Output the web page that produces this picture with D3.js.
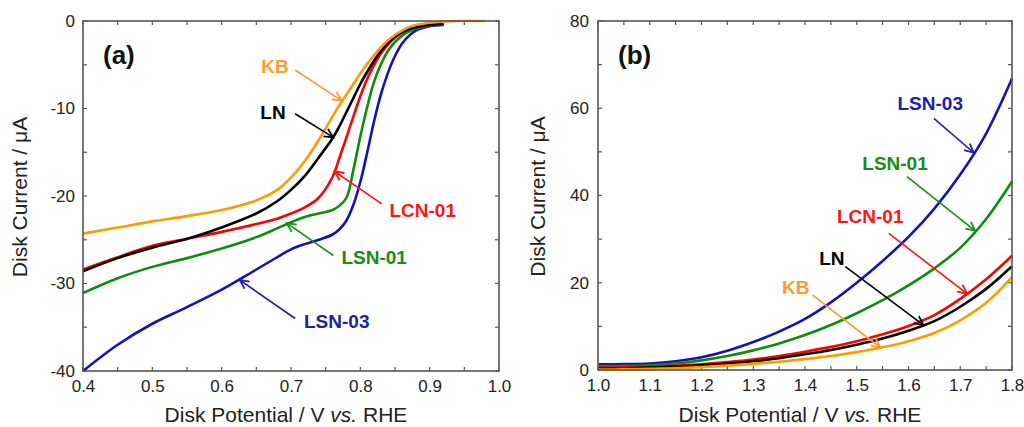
<!DOCTYPE html>
<html>
<head>
<meta charset="utf-8">
<script src="https://cdn.jsdelivr.net/npm/d3@7"></script>
<style>
  html, body { margin: 0; padding: 0; background: #fff; }
  svg { display: block; font-family: "Liberation Sans", Arial, sans-serif; }
</style>
</head>
<body>
<svg id="chart" width="1024" height="427"></svg>
<script>
// ---------- Panel (a): ORR polarisation, disk current vs potential ----------
const potentialA = [0.40, 0.45, 0.50, 0.55, 0.60, 0.65, 0.68, 0.70, 0.72, 0.74, 0.76, 0.77, 0.78, 0.79,
                    0.80, 0.81, 0.82, 0.83, 0.84, 0.85, 0.86, 0.87, 0.88, 0.90, 0.92, 0.95, 0.98];
const kbA    = [-24.3, -23.6, -22.9, -22.3, -21.6, -20.5, -19.3, -17.9, -16.0, -13.6, -10.9, -9.6, -8.4, -7.2,
                -6.0, -4.9, -3.9, -3.0, -2.2, -1.6, -1.1, -0.7, -0.45, -0.2, -0.05, 0, 0];
const lnA    = [-28.6, -27.1, -25.9, -24.9, -23.6, -22.0, -20.6, -19.3, -17.7, -15.6, -13.4, -12.0, -10.4, -8.8,
                -7.2, -5.8, -4.5, -3.4, -2.5, -1.8, -1.3, -0.95, -0.7, -0.45, -0.35, null, null];
const lcn01A = [-28.4, -27.0, -25.7, -24.9, -24.1, -23.2, -22.6, -22.0, -21.3, -20.2, -17.8, -15.6, -13.3, -10.9,
                -8.6, -6.6, -5.0, -3.7, -2.7, -1.9, -1.3, -0.9, -0.7, -0.45, -0.35, null, null];
const lsn01A = [-31.1, -29.4, -28.1, -27.1, -26.0, -24.7, -23.7, -23.0, -22.4, -22.0, -21.6, -21.1, -20.2, -17.0,
                -13.2, -9.8, -6.9, -4.9, -3.4, -2.4, -1.7, -1.2, -0.9, -0.55, -0.4, null, null];
const lsn03A = [-40.0, -37.0, -34.6, -32.7, -30.7, -28.4, -27.0, -26.1, -25.5, -25.0, -24.4, -23.8, -22.8, -21.0,
                -18.4, -15.0, -11.4, -8.3, -5.9, -4.0, -2.6, -1.7, -1.1, -0.6, -0.45, null, null];

// ---------- Panel (b): OER polarisation ----------
const potentialB = [1.00, 1.05, 1.10, 1.15, 1.20, 1.25, 1.30, 1.35, 1.40, 1.45, 1.50, 1.55, 1.60, 1.65, 1.70, 1.75, 1.80];
const lsn03B = [1.3, 1.35, 1.5, 2.0, 2.9, 4.4, 6.4, 8.8, 11.7, 15.5, 20.0, 25.0, 30.5, 37.0, 44.8, 54.2, 66.8];
const lsn01B = [0.9, 0.95, 1.1, 1.5, 2.2, 3.2, 4.5, 6.1, 8.0, 10.3, 13.0, 16.0, 19.4, 23.3, 28.0, 34.6, 43.2];
const lcn01B = [0.5, 0.6, 0.75, 1.0, 1.3, 1.8, 2.4, 3.2, 4.2, 5.3, 6.6, 8.2, 10.1, 12.6, 16.3, 20.8, 26.2];
const lnB    = [0.3, 0.4, 0.55, 0.8, 1.1, 1.5, 2.0, 2.7, 3.6, 4.6, 5.8, 7.2, 9.0, 11.2, 14.5, 18.6, 23.8];
const kbB    = [0.1, 0.15, 0.25, 0.4, 0.65, 1.0, 1.4, 1.9, 2.5, 3.2, 4.1, 5.2, 6.6, 8.5, 11.4, 15.4, 21.3];

// ---------- Axis ticks ----------
const xTicksA = [0.4, 0.5, 0.6, 0.7, 0.8, 0.9, 1.0];
const xMinorA = d3.range(0.4, 1.0001, 0.05);
const yTicksA = [0, -10, -20, -30, -40];
const yMinorA = d3.range(0, -40.001, -5);
const xTicksB = [1.0, 1.1, 1.2, 1.3, 1.4, 1.5, 1.6, 1.7, 1.8];
const xMinorB = d3.range(1.0, 1.8001, 0.05);
const yTicksB = [0, 20, 40, 60, 80];
const yMinorB = d3.range(0, 80.001, 10);

// ---------- Series names and colours ----------
const seriesNames  = ["KB", "LN", "LCN-01", "LSN-01", "LSN-03"];
const lineColors   = ["#ff9a00", "#000000", "#ff0000", "#0d8c0d", "#1212b8"];
const labelColors  = ["#ff9a33", "#000000", "#ff1414", "#1a8a1a", "#2020a8"];

// Label anchor and arrow (tail -> head) in data units
const notesA = [
  { name: "KB",     at: [0.677, -5.2],  tail: [0.706, -5.6],  head: [0.773, -9.1] },
  { name: "LN",     at: [0.674, -10.4], tail: [0.706, -10.6], head: [0.761, -13.3] },
  { name: "LCN-01", at: [0.890, -21.6], tail: [0.831, -20.9], head: [0.763, -17.2] },
  { name: "LSN-01", at: [0.820, -27.0], tail: [0.761, -26.8], head: [0.694, -23.1] },
  { name: "LSN-03", at: [0.766, -34.3], tail: [0.706, -34.0], head: [0.626, -29.6] }
];
const notesB = [
  { name: "LSN-03", at: [1.642, 61.2], tail: [1.649, 57.7], head: [1.726, 49.8] },
  { name: "LSN-01", at: [1.574, 47.4], tail: [1.597, 44.3], head: [1.729, 31.9] },
  { name: "LCN-01", at: [1.526, 35.3], tail: [1.562, 31.3], head: [1.713, 17.5] },
  { name: "LN",     at: [1.452, 25.7], tail: [1.478, 23.7], head: [1.629, 10.3] },
  { name: "KB",     at: [1.382, 19.0], tail: [1.414, 17.2], head: [1.546, 5.1] }
];

const svg = d3.select("#chart");
svg.append("rect").attr("width", 1024).attr("height", 427).attr("fill", "#fff");

function drawPanel(cfg) {
  const x = d3.scaleLinear().domain(cfg.xDomain).range([cfg.left, cfg.right]);
  const y = d3.scaleLinear().domain(cfg.yDomain).range([cfg.bottom, cfg.top]);
  const g = svg.append("g");
  const frameColor = "#555";

  // inward ticks on all four sides
  const tickLen = 4;
  const tickG = g.append("g").attr("stroke", frameColor).attr("stroke-width", 1.2);
  cfg.xMinor.forEach(v => {
    tickG.append("line").attr("x1", x(v)).attr("x2", x(v)).attr("y1", cfg.bottom).attr("y2", cfg.bottom - tickLen);
    tickG.append("line").attr("x1", x(v)).attr("x2", x(v)).attr("y1", cfg.top).attr("y2", cfg.top + tickLen);
  });
  cfg.yMinor.forEach(v => {
    tickG.append("line").attr("y1", y(v)).attr("y2", y(v)).attr("x1", cfg.left).attr("x2", cfg.left + tickLen);
    tickG.append("line").attr("y1", y(v)).attr("y2", y(v)).attr("x1", cfg.right).attr("x2", cfg.right - tickLen);
  });

  // tick labels through d3 axes
  const xAxis = d3.axisBottom(x).tickValues(cfg.xTicks).tickFormat(d3.format(".1f"))
    .tickSize(0).tickPadding(9);
  const gx = g.append("g").attr("transform", `translate(0,${cfg.bottom})`).call(xAxis);
  const yAxis = d3.axisLeft(y).tickValues(cfg.yTicks).tickFormat(v => String(v))
    .tickSize(0).tickPadding(cfg.yPad);
  const gy = g.append("g").attr("transform", `translate(${cfg.left},0)`).call(yAxis);
  [gx, gy].forEach(a => {
    a.select(".domain").remove();
    a.selectAll("text").attr("font-size", 17).attr("fill", "#222")
      .attr("font-family", "Liberation Sans, Arial, sans-serif");
  });

  // curves
  const line = d3.line()
    .defined(d => d[1] !== null)
    .x(d => x(d[0])).y(d => y(d[1]))
    .curve(d3.curveCatmullRom.alpha(0.5));
  cfg.series.forEach((vals, i) => {
    const pts = cfg.xs.map((v, k) => [v, vals[k]]);
    g.append("path").datum(pts)
      .attr("d", line)
      .attr("fill", "none")
      .attr("stroke", lineColors[cfg.order[i]])
      .attr("stroke-width", 2.6)
      .attr("stroke-linejoin", "round");
  });

  // frame
  g.append("rect")
    .attr("x", cfg.left).attr("y", cfg.top)
    .attr("width", cfg.right - cfg.left).attr("height", cfg.bottom - cfg.top)
    .attr("fill", "none").attr("stroke", frameColor).attr("stroke-width", 1.6);

  // annotations: label + arrow
  cfg.notes.forEach(n => {
    const idx = seriesNames.indexOf(n.name);
    const col = labelColors[idx];
    const x1 = x(n.tail[0]), y1 = y(n.tail[1]);
    const x2 = x(n.head[0]), y2 = y(n.head[1]);
    g.append("line").attr("x1", x1).attr("y1", y1).attr("x2", x2).attr("y2", y2)
      .attr("stroke", col).attr("stroke-width", 1.6);
    const ang = Math.atan2(y2 - y1, x2 - x1);
    const hl = 10, hw = 0.45;
    const p1 = [x2 - hl * Math.cos(ang - hw), y2 - hl * Math.sin(ang - hw)];
    const p2 = [x2 - hl * Math.cos(ang + hw), y2 - hl * Math.sin(ang + hw)];
    g.append("path")
      .attr("d", `M${p1[0]},${p1[1]}L${x2},${y2}L${p2[0]},${p2[1]}`)
      .attr("fill", "none").attr("stroke", col).attr("stroke-width", 1.8)
      .attr("stroke-linejoin", "miter");
    g.append("text")
      .attr("x", x(n.at[0])).attr("y", y(n.at[1]))
      .attr("text-anchor", "middle").attr("dy", "0.36em")
      .attr("font-size", 19).attr("font-weight", "bold")
      .attr("fill", col).text(n.name);
  });

  // panel letter
  g.append("text")
    .attr("x", cfg.left + 20).attr("y", cfg.top + 43)
    .attr("font-size", 26).attr("font-weight", "bold").attr("fill", "#111")
    .text(cfg.letter);

  // axis titles
  const xt = g.append("text")
    .attr("x", (cfg.left + cfg.right) / 2 - 5).attr("y", 422)
    .attr("text-anchor", "middle").attr("font-size", 21).attr("fill", "#222");
  xt.append("tspan").text("Disk Potential / V ");
  xt.append("tspan").attr("font-style", "italic").text("vs.");
  xt.append("tspan").text(" RHE");

  const yt = g.append("text")
    .attr("transform", `translate(${cfg.yTitleX},${(cfg.top + cfg.bottom) / 2 + 1}) rotate(-90)`)
    .attr("text-anchor", "middle").attr("font-size", 21).attr("fill", "#222")
    .text("Disk Current / \u03bcA");
}

drawPanel({
  letter: "(a)",
  left: 83, right: 499, top: 21, bottom: 371,
  xDomain: [0.4, 1.0], yDomain: [-40, 0],
  xTicks: xTicksA, xMinor: xMinorA, yTicks: yTicksA, yMinor: yMinorA, yPad: 8,
  xs: potentialA,
  series: [kbA, lnA, lcn01A, lsn01A, lsn03A].reverse(),
  order: [0, 1, 2, 3, 4].reverse(),
  notes: notesA,
  yTitleX: 27
});

drawPanel({
  letter: "(b)",
  left: 598, right: 1012, top: 21, bottom: 370,
  xDomain: [1.0, 1.8], yDomain: [0, 80],
  xTicks: xTicksB, xMinor: xMinorB, yTicks: yTicksB, yMinor: yMinorB, yPad: 9,
  xs: potentialB,
  series: [lsn03B, lsn01B, lcn01B, lnB, kbB],
  order: [4, 3, 2, 1, 0],
  notes: notesB,
  yTitleX: 545
});
</script>
</body>
</html>
